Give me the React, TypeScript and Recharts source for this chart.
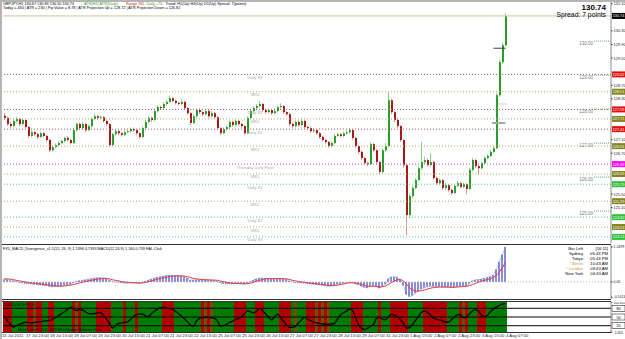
import React from "react";
import {
  ComposedChart,
  Bar,
  Line,
  XAxis,
  YAxis,
  ReferenceLine,
  ReferenceArea,
} from "recharts";

// GBPJPY H1, drawn here as 2-hour candles (15 Jul – 4 Aug 2011)
const opens = [
  127.80, 127.74, 127.56, 127.50, 127.65, 127.71, 127.56, 127.68, 127.47, 127.21,
  127.32, 127.26, 127.18, 127.29, 127.21, 127.09, 126.79, 126.88, 126.94, 127.00,
  127.06, 127.15, 127.09, 127.00, 127.38, 127.56, 127.44, 127.56, 127.38, 127.50,
  127.71, 127.79, 127.74, 127.76, 127.65, 127.56, 126.94, 127.26, 127.35, 127.29,
  127.24, 127.32, 127.35, 127.41, 127.38, 127.29, 127.18, 127.44, 127.62, 127.74,
  127.68, 127.94, 128.06, 128.03, 128.15, 128.21, 128.32, 128.24, 128.18, 128.15,
  128.21, 128.03, 127.88, 127.59, 127.79, 127.97, 127.91, 127.85, 127.94, 127.79,
  127.88, 127.76, 127.44, 127.29, 127.41, 127.47, 127.62, 127.53, 127.65, 127.56,
  127.50, 127.29, 127.74, 127.94, 128.03, 128.09, 128.15, 127.97, 127.91, 127.97,
  127.88, 127.94, 128.06, 128.09, 127.91, 127.85, 127.56, 127.50, 127.62, 127.53,
  127.65, 127.47, 127.44, 127.35, 127.38, 127.29, 127.18, 127.09, 127.03, 126.91,
  127.00, 127.21, 127.26, 127.21, 127.29, 127.32, 127.38, 127.15, 126.91, 126.74,
  126.56, 126.41, 126.38, 126.97, 126.79, 126.44, 126.15, 126.79, 126.91, 128.26,
  127.91, 127.68, 127.50, 127.09, 126.35, 124.88, 125.44, 125.68, 125.91, 126.26,
  126.44, 126.50, 126.35, 126.44, 125.97, 125.82, 125.91, 125.68, 125.76, 125.62,
  125.53, 125.74, 125.82, 125.71, 125.79, 125.65, 126.21, 126.50, 126.32, 126.26,
  126.41, 126.56, 126.62, 126.74, 126.85, 128.41, 129.38, 129.88,
];
const highs = [
  127.88, 127.78, 127.62, 127.70, 127.77, 127.74, 127.73, 127.70, 127.50, 127.37,
  127.36, 127.30, 127.34, 127.33, 127.24, 127.12, 126.93, 126.99, 127.05, 127.10,
  127.19, 127.20, 127.12, 127.43, 127.60, 127.60, 127.62, 127.59, 127.55, 127.76,
  127.85, 127.83, 127.81, 127.79, 127.68, 127.59, 127.31, 127.40, 127.38, 127.33,
  127.37, 127.40, 127.46, 127.45, 127.41, 127.32, 127.49, 127.68, 127.79, 127.78,
  128.00, 128.12, 128.10, 128.20, 128.27, 128.40, 128.35, 128.28, 128.22, 128.30,
  128.24, 128.06, 127.91, 127.84, 128.02, 128.01, 127.95, 127.99, 127.97, 127.93,
  127.91, 127.79, 127.47, 127.46, 127.52, 127.67, 127.66, 127.70, 127.69, 127.60,
  127.53, 127.79, 127.99, 128.09, 128.15, 128.24, 128.18, 128.01, 128.02, 128.00,
  127.99, 128.11, 128.17, 128.12, 127.95, 127.88, 127.60, 127.67, 127.66, 127.72,
  127.68, 127.51, 127.48, 127.43, 127.41, 127.32, 127.21, 127.13, 127.06, 127.05,
  127.26, 127.31, 127.30, 127.34, 127.37, 127.44, 127.41, 127.18, 126.95, 126.78,
  126.60, 126.45, 127.03, 127.00, 126.82, 126.47, 126.84, 127.00, 128.50, 128.30,
  127.95, 127.74, 127.53, 127.12, 126.38, 125.50, 125.74, 125.97, 126.32, 127.03,
  126.60, 126.56, 126.70, 126.48, 126.02, 125.96, 125.95, 125.82, 125.80, 125.66,
  125.79, 125.88, 125.86, 125.84, 125.82, 126.27, 126.56, 126.54, 126.36, 126.46,
  126.61, 126.68, 126.80, 126.92, 128.47, 129.45, 129.95, 130.82,
];
const lows = [
  127.68, 127.50, 127.44, 127.46, 127.60, 127.50, 127.52, 127.42, 127.15, 127.17,
  127.20, 127.12, 127.14, 127.16, 127.03, 126.74, 126.75, 126.84, 126.90, 126.96,
  127.02, 127.04, 126.96, 126.97, 127.33, 127.40, 127.40, 127.33, 127.35, 127.46,
  127.67, 127.69, 127.70, 127.60, 127.50, 126.88, 126.91, 127.22, 127.24, 127.19,
  127.20, 127.28, 127.31, 127.33, 127.24, 127.12, 127.15, 127.40, 127.58, 127.62,
  127.64, 127.90, 127.98, 127.99, 128.11, 128.17, 128.19, 128.13, 128.10, 128.11,
  127.98, 127.83, 127.53, 127.56, 127.75, 127.86, 127.80, 127.81, 127.74, 127.75,
  127.71, 127.39, 127.24, 127.26, 127.37, 127.43, 127.48, 127.49, 127.51, 127.45,
  127.24, 127.26, 127.70, 127.90, 127.99, 128.05, 127.92, 127.86, 127.87, 127.83,
  127.84, 127.90, 128.02, 127.86, 127.80, 127.50, 127.44, 127.46, 127.48, 127.49,
  127.42, 127.39, 127.30, 127.31, 127.24, 127.13, 127.04, 126.98, 126.86, 126.87,
  126.97, 127.17, 127.16, 127.17, 127.25, 127.28, 127.10, 126.86, 126.68, 126.50,
  126.36, 126.32, 126.35, 126.74, 126.38, 126.09, 126.12, 126.74, 126.87, 127.85,
  127.62, 127.44, 127.03, 126.28, 124.29, 124.80, 125.38, 125.64, 125.87, 126.20,
  126.38, 126.30, 126.30, 125.91, 125.76, 125.77, 125.62, 125.62, 125.56, 125.47,
  125.50, 125.70, 125.66, 125.67, 125.50, 125.62, 126.17, 126.26, 126.06, 126.22,
  126.37, 126.52, 126.58, 126.70, 126.82, 128.36, 129.32, 129.84,
];
const closes = [
  127.74, 127.56, 127.50, 127.65, 127.71, 127.56, 127.68, 127.47, 127.21, 127.32,
  127.26, 127.18, 127.29, 127.21, 127.09, 126.79, 126.88, 126.94, 127.00, 127.06,
  127.15, 127.09, 127.00, 127.38, 127.56, 127.44, 127.56, 127.38, 127.50, 127.71,
  127.79, 127.74, 127.76, 127.65, 127.56, 126.94, 127.26, 127.35, 127.29, 127.24,
  127.32, 127.35, 127.41, 127.38, 127.29, 127.18, 127.44, 127.62, 127.74, 127.68,
  127.94, 128.06, 128.03, 128.15, 128.21, 128.32, 128.24, 128.18, 128.15, 128.21,
  128.03, 127.88, 127.59, 127.79, 127.97, 127.91, 127.85, 127.94, 127.79, 127.88,
  127.76, 127.44, 127.29, 127.41, 127.47, 127.62, 127.53, 127.65, 127.56, 127.50,
  127.29, 127.74, 127.94, 128.03, 128.09, 128.15, 127.97, 127.91, 127.97, 127.88,
  127.94, 128.06, 128.09, 127.91, 127.85, 127.56, 127.50, 127.62, 127.53, 127.65,
  127.47, 127.44, 127.35, 127.38, 127.29, 127.18, 127.09, 127.03, 126.91, 127.00,
  127.21, 127.26, 127.21, 127.29, 127.32, 127.38, 127.15, 126.91, 126.74, 126.56,
  126.41, 126.38, 126.97, 126.79, 126.44, 126.15, 126.79, 126.91, 128.26, 127.91,
  127.68, 127.50, 127.09, 126.35, 124.88, 125.44, 125.68, 125.91, 126.26, 126.44,
  126.50, 126.35, 126.44, 125.97, 125.82, 125.91, 125.68, 125.76, 125.62, 125.53,
  125.74, 125.82, 125.71, 125.79, 125.65, 126.21, 126.50, 126.32, 126.26, 126.41,
  126.56, 126.62, 126.74, 126.85, 128.41, 129.38, 129.88, 130.74,
];

const macdHist = [
  0.10, 0.08, 0.05, 0.04, 0.02, -0.02, -0.03, -0.05, -0.06, -0.07,
  -0.08, -0.10, -0.11, -0.12, -0.13, -0.16, -0.17, -0.16, -0.15, -0.14,
  -0.12, -0.10, -0.08, -0.03, 0.02, 0.05, 0.06, 0.08, 0.10, 0.12,
  0.14, 0.15, 0.15, 0.14, 0.12, 0.06, 0.02, 0.00, -0.01, -0.03,
  -0.04, -0.04, -0.03, -0.03, -0.04, -0.05, -0.02, 0.03, 0.07, 0.10,
  0.14, 0.17, 0.19, 0.21, 0.23, 0.24, 0.24, 0.23, 0.22, 0.21,
  0.18, 0.14, 0.08, 0.07, 0.08, 0.08, 0.07, 0.07, 0.06, 0.06,
  0.05, 0.02, -0.03, -0.06, -0.07, -0.07, -0.07, -0.06, -0.06, -0.06,
  -0.08, -0.04, 0.02, 0.07, 0.11, 0.14, 0.14, 0.13, 0.13, 0.12,
  0.12, 0.13, 0.13, 0.11, 0.09, 0.04, 0.00, -0.02, -0.03, -0.03,
  -0.04, -0.05, -0.07, -0.08, -0.09, -0.10, -0.12, -0.13, -0.15, -0.14,
  -0.11, -0.08, -0.06, -0.04, -0.02, 0.00, -0.02, -0.06, -0.10, -0.15,
  -0.19, -0.21, -0.14, -0.13, -0.17, -0.22, -0.14, -0.08, 0.12, 0.18,
  0.19, 0.17, 0.08, -0.12, -0.45, -0.52, -0.48, -0.40, -0.32, -0.25,
  -0.20, -0.17, -0.15, -0.16, -0.17, -0.17, -0.18, -0.18, -0.19, -0.20,
  -0.18, -0.16, -0.15, -0.14, -0.14, -0.06, 0.04, 0.08, 0.09, 0.11,
  0.14, 0.17, 0.20, 0.25, 0.45, 0.72, 0.98, 1.25,
];
const macdSignal = [
  0.12, 0.11, 0.10, 0.08, 0.06, 0.04, 0.02, 0.00, -0.02, -0.03,
  -0.04, -0.06, -0.07, -0.08, -0.10, -0.11, -0.13, -0.14, -0.15, -0.15,
  -0.14, -0.13, -0.11, -0.09, -0.06, -0.03, -0.01, 0.02, 0.04, 0.06,
  0.08, 0.10, 0.12, 0.13, 0.13, 0.11, 0.08, 0.06, 0.04, 0.02,
  0.00, -0.01, -0.02, -0.03, -0.03, -0.04, -0.03, -0.02, 0.01, 0.04,
  0.07, 0.10, 0.13, 0.15, 0.17, 0.19, 0.21, 0.22, 0.22, 0.22,
  0.21, 0.19, 0.16, 0.13, 0.11, 0.10, 0.09, 0.08, 0.08, 0.07,
  0.07, 0.06, 0.03, 0.01, -0.01, -0.03, -0.04, -0.05, -0.05, -0.06,
  -0.06, -0.06, -0.04, -0.01, 0.03, 0.06, 0.09, 0.11, 0.12, 0.12,
  0.12, 0.12, 0.12, 0.12, 0.11, 0.09, 0.06, 0.04, 0.02, 0.00,
  -0.01, -0.03, -0.04, -0.05, -0.07, -0.08, -0.09, -0.11, -0.12, -0.13,
  -0.13, -0.11, -0.09, -0.07, -0.05, -0.03, -0.03, -0.04, -0.06, -0.09,
  -0.12, -0.15, -0.15, -0.15, -0.16, -0.18, -0.17, -0.14, -0.08, -0.02,
  0.04, 0.08, 0.09, 0.04, -0.08, -0.20, -0.28, -0.32, -0.33, -0.31,
  -0.28, -0.25, -0.22, -0.20, -0.19, -0.18, -0.18, -0.18, -0.18, -0.19,
  -0.19, -0.18, -0.17, -0.16, -0.15, -0.13, -0.09, -0.05, -0.01, 0.03,
  0.06, 0.09, 0.12, 0.16, 0.24, 0.36, 0.52, 0.70,
];
const cycle = [
  52, 37, 24, 15, 20, 25, 29, 32, 31, 30,
  31, 33, 34, 36, 37, 38, 42, 48, 55, 62,
  68, 76, 84, 78, 72, 76, 74, 68, 62, 61,
  62, 64, 66, 56, 43, 28, 12, 20, 28, 29,
  31, 33, 42, 52, 58, 61, 60, 54, 52, 62,
  70, 77, 82, 84, 82, 79, 76, 70, 62, 53,
  43, 33, 22, 19, 37, 45, 48, 49, 48, 47,
  45, 36, 19, 21, 25, 31, 35, 41, 45, 51,
  61, 71, 68, 64, 70, 80, 72, 61, 49, 40,
  50, 60, 48, 35, 24, 14, 14, 18, 30, 40,
  49, 43, 37, 32, 30, 28, 26, 25, 25, 26,
  28, 43, 58, 65, 70, 77, 72, 49, 24, 11,
  7, 11, 18, 25, 45, 49, 43, 41, 51, 60,
  56, 52, 41, 28, 12, 13, 25, 38, 52, 66,
  70, 66, 57, 47, 42, 40, 36, 32, 32, 41,
  50, 58, 58, 47, 51, 61, 71, 76, 70, 57,
  51, 56, 69, 78, 85, 90, 94, 96,
];
// background colour runs of the lower indicator: bar index where each run starts
const zoneStarts = [
  0, 3, 8, 10, 11, 13, 15, 17, 23, 24, 25, 26, 31, 36, 40, 41, 44, 45, 53, 57,
  66, 67, 68, 69, 70, 77, 81, 84, 87, 92, 96, 97, 98, 101, 104, 105, 106, 107, 108, 109,
  116, 120, 125, 126, 129, 135, 140, 148, 152, 153, 154, 155, 158, 161, 168,
];
const zoneKinds = [
  "r", "g", "r", "b", "r", "g", "r", "g", "r", "b", "r", "g", "r", "g", "r", "g", "r", "g", "r", "g",
  "r", "b", "r", "b", "g", "r", "g", "r", "g", "r", "g", "b", "g", "r", "b", "r", "b", "r", "b", "g",
  "r", "g", "r", "g", "r", "g", "r", "g", "r", "b", "r", "g", "r", "g",
];

const timeLabels = [
  "15 Jul 2011", "17 Jul 23:00", "18 Jul 15:00", "19 Jul 07:00", "19 Jul 23:00", "20 Jul 15:00",
  "21 Jul 07:00", "21 Jul 23:00", "22 Jul 15:00", "25 Jul 07:00", "25 Jul 23:00", "26 Jul 15:00",
  "27 Jul 07:00", "27 Jul 23:00", "28 Jul 15:00", "29 Jul 07:00", "31 Jul 23:00", "1 Aug 15:00",
  "2 Aug 07:00", "2 Aug 23:00", "3 Aug 15:00", "4 Aug 07:00",
];
const priceTicks = [
  131.1, 130.7, 130.3, 129.9, 129.5, 129.1, 128.7, 128.3, 127.9, 127.5,
  127.1, 126.7, 126.3, 125.9, 125.5, 125.1, 124.7, 124.3,
];
const levelNames = [
  "Daily R3", "MR3", "Daily R2", "MR2", "Daily R1", "MR1", "Thursday Daily Pivot",
  "MS1", "Daily S1", "MS2", "Daily S2", "MS3", "Daily S3",
];
const levelPrices = [
  129.02, 128.51, 127.99, 127.71, 127.41, 126.91, 126.38, 126.09, 125.79, 125.29, 124.82, 124.53, 124.24,
];
const levelKinds = ["R", "M", "R", "M", "R", "M", "P", "M", "S", "M", "S", "M", "S"];
const roundLevels = [130, 129, 128, 127, 126, 125];
const lastPrice = 130.74;
const atrMarks = [129.79, 128.15, 127.59];

const FONT = '"Liberation Sans", Arial, sans-serif';
const X_MAX = 202.67;
const LEVEL_LINE: Record<string, string> = { R: "#b2506a", M: "#a9a862", P: "#cc44cc", S: "#52c48e" };
const LEVEL_TAG: Record<string, string> = { R: "#e01010", M: "#85851f", P: "#ff00ff", S: "#2fc23a" };
const ZONE_FILL: Record<string, string> = { r: "#b30000", g: "#007c00", b: "#6c5206" };

// axis labels that sit under a coloured price tag are hidden, as in the terminal
const tagPrices = [lastPrice, ...levelPrices];
const visiblePriceTicks = priceTicks.filter((t) => tagPrices.every((p) => Math.abs(p - t) > 0.13));

const rows = closes.map((c, i) => ({
  x: i + 0.5,
  o: opens[i],
  h: highs[i],
  l: lows[i],
  c,
  range: [lows[i], highs[i]],
  m: macdHist[i],
  s: macdSignal[i],
  v: cycle[i],
}));

function Candle(props: any) {
  const { x, y, width, height, payload } = props;
  if (x == null || !payload) return null;
  const top = Math.min(y, y + height);
  const span = Math.max(Math.abs(height), 1);
  const unit = span / Math.max(payload.h - payload.l, 0.0001);
  const yo = top + (payload.h - payload.o) * unit;
  const yc = top + (payload.h - payload.c) * unit;
  const up = payload.c >= payload.o;
  const wx = Math.floor(x + width / 2);
  return (
    <g>
      <rect x={wx} y={top} width={1} height={span} fill={up ? "#8fcf8f" : "#d99a9a"} />
      <rect
        x={wx}
        y={Math.min(yo, yc)}
        width={2}
        height={Math.max(1, Math.abs(yo - yc))}
        fill={up ? "#2a9e2a" : "#a81818"}
      />
    </g>
  );
}

const axisTag = (text: string, bg: string, fg = "#fff", border?: string) => (props: any) => {
  const vb = props.viewBox;
  if (!vb) return null;
  const x = vb.x + vb.width + 1;
  return (
    <g>
      <rect x={x} y={vb.y - 3} width={13} height={6} fill={bg} stroke={border || "none"} strokeWidth={0.5} />
      <text x={x + 6.5} y={vb.y + 1.5} fontSize={3.8} textAnchor="middle" fill={fg} fontFamily={FONT}>
        {text}
      </text>
    </g>
  );
};

const levelLabel = (name: string, price: number, kind: string) => (props: any) => {
  const vb = props.viewBox;
  if (!vb) return null;
  const cx = vb.x + (vb.width * 84) / X_MAX;
  return (
    <g>
      <text x={cx} y={vb.y + 4.5} fontSize={4} textAnchor="middle" fill="#a8a8a8" fontFamily={FONT}>
        {name}
      </text>
      {axisTag(price.toFixed(2), LEVEL_TAG[kind])(props)}
    </g>
  );
};

const roundLabel = (text: string) => (props: any) => {
  const vb = props.viewBox;
  if (!vb) return null;
  return (
    <text x={vb.x - 1} y={vb.y + 4} fontSize={4.5} textAnchor="end" fill="#7a7a7a" fontFamily={FONT}>
      {text}
    </text>
  );
};

const rightTick = (fmt: (v: number) => string, size = 4.2, dy = 1.5) => (props: any) => {
  const { x, y, payload } = props;
  return (
    <text x={x + 1} y={y + dy} fontSize={size} fill="#222" fontFamily={FONT}>
      {fmt(payload.value)}
    </text>
  );
};

const timeTick = (props: any) => {
  const { x, y, payload } = props;
  return (
    <text x={x - 1} y={y + 4.5} fontSize={4.2} fill="#222" fontFamily={FONT}>
      {timeLabels[Math.round(payload.value / 8)]}
    </text>
  );
};

const clockNames = ["Bar Left", "Sydney", "Tokyo", "* Berlin", "* London", "New York"];
const clockValues = ["[16:11]", "05:43 PM", "05:43 PM", "10:43 AM", "09:43 AM", "04:43 AM"];

export default function App() {
  const margin = { top: 0, right: 0, bottom: 0, left: 3 };
  return (
    <div
      style={{
        position: "absolute",
        left: 0,
        top: 0,
        width: 625,
        height: 339,
        background: "#fff",
        overflow: "hidden",
        fontFamily: FONT,
      }}
    >
      {/* price window */}
      <div style={{ position: "absolute", left: 0, top: 2 }}>
        <ComposedChart width={625} height={241} data={rows} margin={margin}>
          <XAxis type="number" dataKey="x" domain={[0, X_MAX]} hide allowDataOverflow />
          <YAxis
            orientation="right"
            width={14}
            domain={[124.06, 131.15]}
            ticks={visiblePriceTicks}
            interval={0}
            allowDataOverflow
            axisLine={{ stroke: "#8c8c8c" }}
            tickLine={{ stroke: "#333" }}
            tickSize={1.5}
            tickMargin={0}
            tick={rightTick((v) => v.toFixed(2), 4)}
          />
          {levelPrices.map((p, i) => (
            <ReferenceLine
              key={levelNames[i]}
              y={p}
              stroke={LEVEL_LINE[levelKinds[i]]}
              strokeDasharray="1 2"
              label={levelLabel(levelNames[i], p, levelKinds[i])}
            />
          ))}
          {roundLevels.map((p) => (
            <ReferenceLine
              key={p}
              segment={[
                { x: 197, y: p },
                { x: X_MAX, y: p },
              ]}
              stroke="#62a262"
              strokeDasharray="1 1"
              label={roundLabel(p.toFixed(2))}
            />
          ))}
          <ReferenceLine y={lastPrice} stroke="#d2c29e" label={axisTag(lastPrice.toFixed(2), "#000")} />
          <Bar dataKey="range" barSize={3} isAnimationActive={false} shape={(p: any) => <Candle {...p} />} />
          <ReferenceLine
            segment={[
              { x: 163.5, y: atrMarks[0] },
              { x: 167.5, y: atrMarks[0] },
            ]}
            stroke="#404040"
          />
          <ReferenceLine
            segment={[
              { x: 165, y: atrMarks[1] },
              { x: 168, y: atrMarks[1] },
            ]}
            stroke="#cfcfcf"
          />
          <ReferenceLine
            segment={[
              { x: 163, y: atrMarks[2] },
              { x: 167.5, y: atrMarks[2] },
            ]}
            stroke="#a8a8a8"
            strokeWidth={2}
          />
        </ComposedChart>
      </div>

      {/* MACD window */}
      <div style={{ position: "absolute", left: 0, top: 245 }}>
        <ComposedChart width={625} height={54} data={rows} margin={margin}>
          <XAxis type="number" dataKey="x" domain={[0, X_MAX]} hide allowDataOverflow />
          <YAxis
            orientation="right"
            width={14}
            domain={[-0.607, 1.321]}
            ticks={[1.2499, 0, -0.5424]}
            interval={0}
            allowDataOverflow
            axisLine={{ stroke: "#8c8c8c" }}
            tickLine={{ stroke: "#333" }}
            tickSize={1.5}
            tickMargin={0}
            tick={rightTick((v) => (v === 0 ? "0.00" : String(v)), 3.5, 1)}
          />
          <ReferenceLine y={0} stroke="#b8b8b8" strokeDasharray="1 2" />
          <Bar dataKey="m" fill="#8b8bd8" barSize={2} isAnimationActive={false} />
          <Line dataKey="m" stroke="#5d7ad6" strokeDasharray="1 1" strokeWidth={0.8} dot={false} isAnimationActive={false} />
          <Line dataKey="s" stroke="#e03a3a" strokeWidth={1} dot={false} isAnimationActive={false} />
        </ComposedChart>
      </div>

      {/* cycle window */}
      <div style={{ position: "absolute", left: 0, top: 302 }}>
        <ComposedChart width={625} height={37} data={rows} margin={margin}>
          <XAxis
            type="number"
            dataKey="x"
            domain={[0, X_MAX]}
            allowDataOverflow
            ticks={timeLabels.map((_, k) => k * 8)}
            interval={0}
            height={7}
            axisLine={false}
            tickLine={false}
            tickSize={0}
            tickMargin={0}
            tick={timeTick}
          />
          <YAxis
            orientation="right"
            width={14}
            domain={[-1.655, 101.655]}
            ticks={[101.655, -1.655]}
            interval={0}
            allowDataOverflow
            axisLine={{ stroke: "#8c8c8c" }}
            tickLine={{ stroke: "#333" }}
            tickSize={1.5}
            tickMargin={0}
            tick={rightTick((v) => String(v), 3.4, 2.2)}
          />
          {zoneKinds.map((k, i) => (
            <ReferenceArea
              key={i}
              x1={zoneStarts[i]}
              x2={zoneStarts[i + 1]}
              fill={ZONE_FILL[k]}
              fillOpacity={1}
              stroke="none"
            />
          ))}
          {[80, 50, 20].map((v) => (
            <ReferenceLine key={v} y={v} stroke="#000" label={axisTag(String(v), "#fff", "#000", "#000")} />
          ))}
          <Line dataKey="v" type="monotone" stroke="#000" strokeWidth={1.3} dot={false} isAnimationActive={false} />
        </ComposedChart>
      </div>

      {/* frame, separators and terminal texts */}
      <svg width={625} height={339} style={{ position: "absolute", left: 0, top: 0, pointerEvents: "none" }}>
        <rect x={0} y={0} width={625} height={2} fill="#b4b4b4" />
        <rect x={0} y={0} width={2} height={339} fill="#b4b4b4" />
        <line x1={2} x2={611} y1={244.5} y2={244.5} stroke="#303030" />
        <line x1={2} x2={611} y1={299.5} y2={299.5} stroke="#303030" />
        <line x1={2} x2={611} y1={301.5} y2={301.5} stroke="#303030" />
        <line x1={2} x2={611} y1={332.5} y2={332.5} stroke="#303030" />

        <text x={3} y={4.5} fontSize={3.8} fontFamily={FONT}>
          <tspan fill="#000">GBPJPY,H1  130.67 130.83 130.50 130.74</tspan>
          <tspan dx={10} fill="#1f9a1f">ATR(H1) ATR(Daily)</tspan>
          <tspan dx={8} fill="#d02020">Range 265</tspan>
          <tspan dx={2} fill="#1f9a1f">Daily +74</tspan>
          <tspan dx={3} fill="#000">Trend: H1(Up) H4(Up) D1(Up)  Spread: 7(points)</tspan>
        </text>
        <text x={3} y={8.8} fontSize={3.8} fill="#000" fontFamily={FONT}>
          Today = 430   |   ATR = 230   |   Pip Value = 8.78   |   ATR Projection Up = 128.72   |   ATR Projection Down = 126.82
        </text>

        <text x={606} y={10} fontSize={8} fontWeight="bold" textAnchor="end" fill="#000" fontFamily={FONT}>
          130.74
        </text>
        <text x={606} y={17} fontSize={6.8} textAnchor="end" fill="#000" fontFamily={FONT}>
          Spread: 7 points
        </text>

        <text x={3} y={250} fontSize={3.8} fill="#000" fontFamily={FONT}>
          FX5_MACD_Divergence_v1.1(12, 26, 9) 1.1396 0.7393   MACD(12,26,9) 1.160 0.739   FAL Click
        </text>
        {clockNames.map((n, i) => {
          const gold = n.startsWith("*");
          return (
            <g key={n}>
              <text x={583} y={249.5 + i * 5} fontSize={4.2} textAnchor="end" fill={gold ? "#c09a30" : "#000"} fontFamily={FONT}>
                {n}
              </text>
              <text x={608} y={249.5 + i * 5} fontSize={4.2} textAnchor="end" fill="#000" fontFamily={FONT}>
                {clockValues[i]}
              </text>
            </g>
          );
        })}

        <text x={3} y={305.5} fontSize={3.6} fill="#000" fontFamily={FONT}>
          CCI(14) 96.59 83.90
        </text>
        <text x={18} y={330.5} fontSize={3.6} fill="#000" fontFamily={FONT}>
          MetaTrader© 2001-2011 MetaQuotes Software Corp.
        </text>
      </svg>
    </div>
  );
}
